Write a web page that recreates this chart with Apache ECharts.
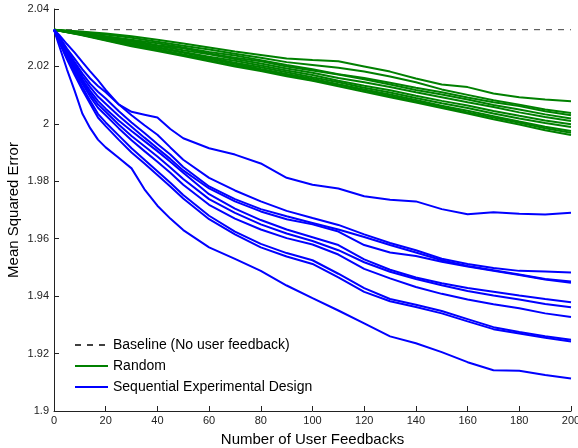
<!DOCTYPE html>
<html>
<head>
<meta charset="utf-8">
<script src="https://cdn.jsdelivr.net/npm/echarts@6/dist/echarts.min.js"></script>
<style>
html,body{margin:0;padding:0;background:#fff;}
#chart{width:578px;height:448px;}
</style>
</head>
<body>
<div id="chart"></div>
<script>
// ---- data ----
const baselineValue = 2.0328;
const baselineX = [0, 200];

const xsGreen = [0,10,20,30,40,50,60,70,80,90,100,110,120,130,140,150,160,170,180,190,200];
const green1  = [2.0328,2.0322,2.0315,2.0305,2.0293,2.0280,2.0266,2.0252,2.0240,2.0228,2.0222,2.0218,2.0200,2.0182,2.0158,2.0137,2.0128,2.0106,2.0093,2.0085,2.0079];
const green2  = [2.0328,2.0320,2.0311,2.0300,2.0286,2.0272,2.0259,2.0244,2.0230,2.0215,2.0205,2.0195,2.0182,2.0165,2.0145,2.0120,2.0101,2.0082,2.0067,2.0050,2.0038];
const green3  = [2.0328,2.0318,2.0304,2.0293,2.0281,2.0266,2.0250,2.0238,2.0222,2.0205,2.0190,2.0173,2.0160,2.0143,2.0126,2.0110,2.0092,2.0075,2.0062,2.0044,2.0030];
const green4  = [2.0328,2.0315,2.0305,2.0290,2.0274,2.0263,2.0245,2.0230,2.0218,2.0200,2.0186,2.0172,2.0155,2.0137,2.0118,2.0102,2.0085,2.0066,2.0050,2.0033,2.0019];
const green5  = [2.0328,2.0317,2.0300,2.0286,2.0272,2.0256,2.0242,2.0226,2.0210,2.0193,2.0178,2.0160,2.0145,2.0128,2.0110,2.0093,2.0075,2.0059,2.0040,2.0024,2.0010];
const green6  = [2.0328,2.0313,2.0298,2.0282,2.0267,2.0250,2.0234,2.0220,2.0203,2.0186,2.0170,2.0150,2.0133,2.0117,2.0098,2.0080,2.0064,2.0045,2.0028,2.0012,1.9999];
const green7  = [2.0328,2.0314,2.0296,2.0279,2.0265,2.0248,2.0230,2.0213,2.0197,2.0180,2.0162,2.0145,2.0126,2.0109,2.0090,2.0072,2.0055,2.0036,2.0019,2.0003,1.9989];
const green8  = [2.0328,2.0311,2.0294,2.0276,2.0260,2.0242,2.0226,2.0209,2.0191,2.0174,2.0157,2.0138,2.0120,2.0102,2.0083,2.0063,2.0046,2.0027,2.0008,1.9990,1.9975];
const green9  = [2.0328,2.0312,2.0292,2.0273,2.0257,2.0240,2.0221,2.0204,2.0188,2.0170,2.0152,2.0136,2.0117,2.0097,2.0078,2.0060,2.0040,2.0022,2.0004,1.9985,1.9969];
const green10 = [2.0328,2.0310,2.0290,2.0270,2.0254,2.0236,2.0218,2.0200,2.0184,2.0166,2.0150,2.0131,2.0112,2.0093,2.0074,2.0055,2.0036,2.0016,1.9998,1.9978,1.9961];

const xsBlue = [0,2,5,8,11,14,17,20,25,30,35,40,45,50,60,70,80,90,100,110,120,130,140,150,160,170,180,190,200];
const blue1  = [2.0328,2.0310,2.0278,2.0248,2.0215,2.0183,2.0152,2.0118,2.0068,2.0042,2.0032,2.0022,1.9982,1.9950,1.9915,1.9893,1.9862,1.9812,1.9788,1.9775,1.9748,1.9736,1.9730,1.9703,1.9685,1.9692,1.9687,1.9684,1.9690];
const blue2  = [2.0328,2.0305,2.0262,2.0226,2.0190,2.0158,2.0132,2.0110,2.0068,2.0030,1.9995,1.9962,1.9918,1.9875,1.9812,1.9768,1.9730,1.9697,1.9672,1.9648,1.9615,1.9585,1.9560,1.9530,1.9512,1.9498,1.9488,1.9486,1.9482];
const blue3  = [2.0328,2.0300,2.0256,2.0215,2.0175,2.0140,2.0112,2.0088,2.0045,2.0005,1.9968,1.9930,1.9893,1.9850,1.9782,1.9738,1.9703,1.9678,1.9655,1.9632,1.9606,1.9578,1.9552,1.9525,1.9505,1.9490,1.9475,1.9460,1.9451];
const blue4  = [2.0328,2.0298,2.0250,2.0208,2.0165,2.0128,2.0095,2.0070,2.0028,1.9990,1.9952,1.9915,1.9878,1.9838,1.9775,1.9730,1.9695,1.9668,1.9650,1.9625,1.9578,1.9552,1.9540,1.9520,1.9503,1.9488,1.9474,1.9458,1.9447];
const blue5  = [2.0328,2.0295,2.0246,2.0200,2.0155,2.0115,2.0080,2.0053,2.0012,1.9975,1.9940,1.9905,1.9868,1.9830,1.9755,1.9705,1.9665,1.9632,1.9605,1.9578,1.9528,1.9492,1.9465,1.9445,1.9428,1.9415,1.9402,1.9390,1.9379];
const blue6  = [2.0328,2.0292,2.0240,2.0193,2.0148,2.0105,2.0068,2.0042,1.9998,1.9958,1.9922,1.9886,1.9848,1.9808,1.9738,1.9690,1.9650,1.9618,1.9592,1.9560,1.9518,1.9485,1.9460,1.9438,1.9418,1.9402,1.9388,1.9373,1.9361];
const blue7  = [2.0328,2.0290,2.0236,2.0187,2.0140,2.0095,2.0056,2.0030,1.9985,1.9943,1.9905,1.9868,1.9830,1.9788,1.9718,1.9670,1.9632,1.9602,1.9580,1.9545,1.9495,1.9462,1.9432,1.9408,1.9388,1.9372,1.9358,1.9340,1.9327];
const blue8  = [2.0328,2.0288,2.0230,2.0178,2.0128,2.0080,2.0035,2.0005,1.9960,1.9915,1.9875,1.9835,1.9795,1.9752,1.9680,1.9625,1.9582,1.9550,1.9525,1.9478,1.9428,1.9390,1.9370,1.9348,1.9320,1.9292,1.9275,1.9260,1.9248];
const blue9  = [2.0328,2.0285,2.0225,2.0170,2.0118,2.0070,2.0022,1.9992,1.9945,1.9900,1.9862,1.9822,1.9782,1.9740,1.9668,1.9615,1.9570,1.9538,1.9512,1.9465,1.9415,1.9382,1.9362,1.9340,1.9312,1.9285,1.9270,1.9255,1.9242];
const blue10 = [2.0328,2.0272,2.0190,2.0115,2.0035,1.9985,1.9945,1.9918,1.9882,1.9845,1.9772,1.9715,1.9670,1.9630,1.9570,1.9530,1.9488,1.9437,1.9393,1.9350,1.9305,1.9260,1.9236,1.9205,1.9170,1.9142,1.9140,1.9125,1.9113];

const xTicks = {min: 0, max: 200, interval: 20};
const yTicks = {min: 1.9, max: 2.04, interval: 0.02};

const greenSets = [green1,green2,green3,green4,green5,green6,green7,green8,green9,green10];
const blueSets = [blue1,blue2,blue3,blue4,blue5,blue6,blue7,blue8,blue9,blue10];

// ---- chart ----
const FONT = 'Liberation Sans, Arial, Helvetica, sans-serif';
const series = [];
series.push({
  name: 'Baseline (No user feedback)', type: 'line', symbol: 'none', animation: false,
  data: baselineX.map(x => [x, baselineValue]),
  lineStyle: {color: '#404040', width: 1, type: [6, 6]},
  itemStyle: {color: '#404040'}, z: 1
});
greenSets.forEach(ys => series.push({
  name: 'Random', type: 'line', symbol: 'none', animation: false,
  data: xsGreen.map((x, i) => [x, ys[i]]),
  lineStyle: {color: '#008000', width: 2}, itemStyle: {color: '#008000'}, z: 2
}));
blueSets.forEach(ys => series.push({
  name: 'Sequential Experimental Design', type: 'line', symbol: 'none', animation: false,
  data: xsBlue.map((x, i) => [x, ys[i]]),
  lineStyle: {color: '#0000ff', width: 2}, itemStyle: {color: '#0000ff'}, z: 3
}));

const chart = echarts.init(document.getElementById('chart'), null, {renderer: 'canvas'});
chart.setOption({
  animation: false,
  backgroundColor: '#ffffff',
  grid: {left: 54, right: 7, top: 9, bottom: 37, containLabel: false, outerBoundsMode: 'none'},
  legend: {
    data: ['Baseline (No user feedback)', 'Random', 'Sequential Experimental Design'],
    orient: 'vertical', left: 74, top: 338, padding: 0,
    itemWidth: 33, itemHeight: 14, itemGap: 7,
    itemStyle: {opacity: 0},
    textStyle: {fontFamily: FONT, fontSize: 14, color: '#000'},
    selectedMode: false
  },
  xAxis: {
    type: 'value', min: xTicks.min, max: xTicks.max, interval: xTicks.interval,
    name: 'Number of User Feedbacks', nameLocation: 'middle', nameGap: 21,
    nameMoveOverlap: false,
    nameTextStyle: {fontFamily: FONT, fontSize: 15, color: '#000'},
    axisLine: {show: true, lineStyle: {color: '#222', width: 1}},
    axisTick: {show: true, inside: true, length: 5, lineStyle: {color: '#222'}},
    axisLabel: {fontFamily: FONT, fontSize: 11, color: '#222', margin: 4},
    splitLine: {show: false}
  },
  yAxis: {
    type: 'value', min: yTicks.min, max: yTicks.max, interval: yTicks.interval,
    name: 'Mean Squared Error', nameLocation: 'middle', nameGap: 33,
    nameMoveOverlap: false,
    nameTextStyle: {fontFamily: FONT, fontSize: 15, color: '#000'},
    axisLine: {show: true, lineStyle: {color: '#222', width: 1}},
    axisTick: {show: true, inside: true, length: 5, lineStyle: {color: '#222'}},
    axisLabel: {fontFamily: FONT, fontSize: 11, color: '#222', margin: 5,
      formatter: v => String(parseFloat(Number(v).toFixed(2)))},
    splitLine: {show: false}
  },
  series: series
});
</script>
</body>
</html>
